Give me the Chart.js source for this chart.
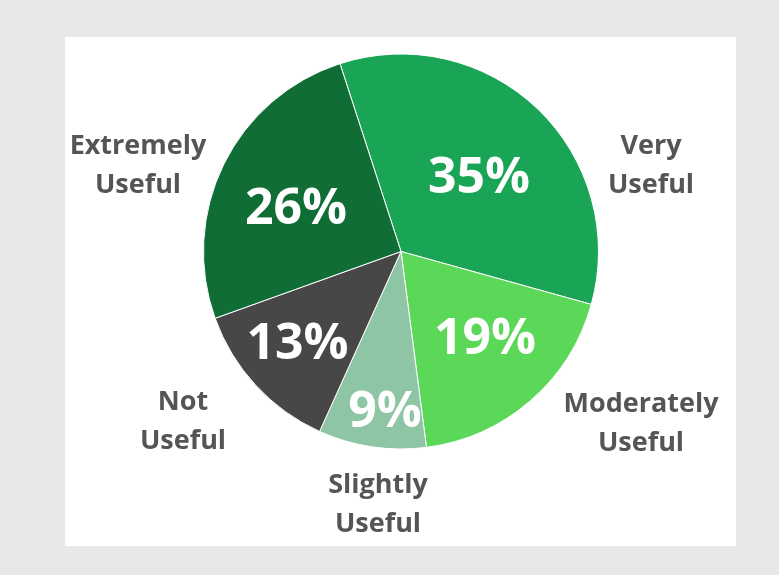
<!DOCTYPE html>
<html>
<head>
<meta charset="utf-8">
<title>Usefulness</title>
<script src="https://cdn.jsdelivr.net/npm/chart.js@4"></script>
<style>
  html, body { margin: 0; padding: 0; background: #e8e8e8; }
  canvas { display: block; }
</style>
</head>
<body>
<canvas id="usefulPie" width="779" height="575"></canvas>
<script>
// data
const categories = ['Very Useful', 'Moderately Useful', 'Slightly Useful', 'Not Useful', 'Extremely Useful'];
const percents = [35, 19, 9, 13, 26];
const sliceColors = ['#19a555', '#5bd858', '#8ec5a5', '#474747', '#0f6d35'];

// label offsets from the pie centre: [x centre, baseline]
const pctOffsets = [[78, -59], [84, 102.5], [-16, 175.5], [-103.5, 107.5], [-105, -27.5]];
const nameOffsets = [[250, -97.5], [240, 160.5], [-23, 241.5], [-218, 158.5], [-263, -97.5]];

const panelPlugin = {
  id: 'panel',
  beforeDraw(chart) {
    const c = chart.ctx;
    c.save();
    c.fillStyle = '#e8e8e8';
    c.fillRect(0, 0, chart.width, chart.height);
    c.fillStyle = '#ffffff';
    c.fillRect(65, 37, 671, 509);
    c.restore();
  }
};

const labelPlugin = {
  id: 'sliceLabels',
  afterDraw(chart) {
    const c = chart.ctx;
    const arcs = chart.getDatasetMeta(0).data;
    const cx = arcs[0].x, cy = arcs[0].y;
    c.save();
    c.textAlign = 'center';
    c.textBaseline = 'alphabetic';

    // percentages inside slices
    c.fillStyle = '#ffffff';
    c.font = '700 50px "Open Sans"';
    percents.forEach((v, i) => {
      c.fillText(v + '%', cx + pctOffsets[i][0], cy + pctOffsets[i][1]);
    });

    // category names outside
    c.fillStyle = '#555555';
    c.font = '700 27px "Open Sans"';
    categories.forEach((name, i) => {
      const lines = name.split(' ');
      lines.forEach((line, j) => {
        c.fillText(line, cx + nameOffsets[i][0], cy + nameOffsets[i][1] + j * 39);
      });
    });
    c.restore();
  }
};

const ctx = document.getElementById('usefulPie').getContext('2d');

new Chart(ctx, {
  type: 'pie',
  data: {
    labels: categories,
    datasets: [{
      data: percents,
      backgroundColor: sliceColors,
      borderColor: '#ffffff',
      borderWidth: 1
    }]
  },
  options: {
    responsive: false,
    animation: false,
    rotation: -18,
    layout: {
      padding: { left: 203, right: 180, top: 53.5, bottom: 125.5 }
    },
    plugins: {
      legend: { display: false },
      tooltip: { enabled: false }
    }
  },
  plugins: [panelPlugin, labelPlugin]
});
</script>
</body>
</html>
